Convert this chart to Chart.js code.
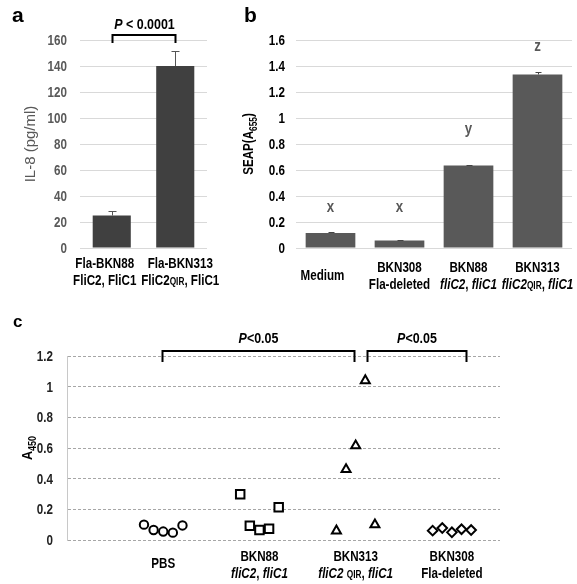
<!DOCTYPE html>
<html>
<head>
<meta charset="utf-8">
<script src="https://cdn.jsdelivr.net/npm/chart.js@4.4.0/dist/chart.umd.min.js"></script>
<style>
  html, body { margin: 0; padding: 0; background: #fff; }
  #wrap { position: relative; width: 577px; height: 584px; overflow: hidden; }
  canvas { position: absolute; }
  .tag { position: absolute; font-family: 'Liberation Sans', Arial, sans-serif; font-weight: bold; color: #000; line-height: 1; }
</style>
</head>
<body>
<div id="wrap">
  <canvas id="chartA" width="240" height="300" style="left:0;top:0"></canvas>
  <canvas id="chartB" width="337" height="300" style="left:240px;top:0"></canvas>
  <canvas id="chartC" width="577" height="284" style="left:0;top:300px"></canvas>
  <div class="tag" style="left:12px;top:4px;font-size:21px">a</div>
  <div class="tag" style="left:244px;top:4px;font-size:21px">b</div>
  <div class="tag" style="left:13px;top:313px;font-size:17px">c</div>
</div>
<script>
// panel a - IL-8
const aLabels = [['Fla-BKN88', 'FliC2, FliC1'], ['Fla-BKN313', 'FliC2~QIR~, FliC1']];
const aValues = [25, 140];
const aErrors = [3.8, 11.5];
const aTicks = {min: 0, max: 160, step: 20};
const aPValue = '*P* < 0.0001';

// panel b - SEAP
const bLabels = [['Medium'], ['BKN308', 'Fla-deleted'], ['BKN88', '*fliC2*, *fliC1*'], ['BKN313', '*fliC2*~QIR~, *fliC1*']];
const bValues = [0.115, 0.057, 0.635, 1.335];
const bErrors = [0.006, 0.003, 0.006, 0.022];
const bLetters = ['x', 'x', 'y', 'z'];
const bLetterAt = [0.31, 0.31, 0.91, 1.55];
const bTicks = {min: 0, max: 1.6, step: 0.2};

// panel c - A450 per mouse
const cLabels = [['PBS'], ['BKN88', '*fliC2*, *fliC1*'], ['BKN313', '*fliC2* ~QIR~, *fliC1*'], ['BKN308', 'Fla-deleted']];
const cJitter = [-0.2, -0.1, 0, 0.1, 0.2];
const cPBS = [0.10, 0.065, 0.055, 0.048, 0.095];
const cBKN88 = [0.298, 0.093, 0.065, 0.074, 0.213];
const cBKN313 = [0.06, 0.46, 0.615, 1.04, 0.10];
const cBKN308 = [0.061, 0.078, 0.050, 0.070, 0.065];
const cStyles = ['circle', 'rect', 'triangle', 'rectRot'];
const cBrackets = [[0.99, 2.98], [3.12, 4.15]];
const cTicks = {min: 0, max: 1.2, step: 0.2};

const FAMILY = "'Liberation Sans', Arial, sans-serif";
const NARROW = 0.83; // no narrow face installed, squeeze the regular one

function fontOf(size, bold, italic) {
  return (italic ? 'italic ' : '') + (bold ? 'bold ' : '') + size + 'px ' + FAMILY;
}

// *italic*  ~small caps~  _subscript_
function parseRuns(str) {
  const out = [];
  let italic = false, small = false, sub = false, buf = '';
  const push = () => { if (buf) out.push({text: buf, italic, small, sub}); buf = ''; };
  for (const ch of str) {
    if (ch === '*') { push(); italic = !italic; }
    else if (ch === '~') { push(); small = !small; }
    else if (ch === '_') { push(); sub = !sub; }
    else buf += ch;
  }
  push();
  return out;
}

function drawRich(ctx, str, x0, baseY, size, opt) {
  opt = opt || {};
  const bold = opt.bold !== false;
  const squeeze = opt.squeeze || NARROW;
  const parts = parseRuns(str).map(p => {
    const s = (p.small || p.sub) ? Math.round(size * 0.68) : size;
    const f = fontOf(s, bold, p.italic);
    ctx.font = f;
    return {text: p.text, f, w: ctx.measureText(p.text).width, dy: p.sub ? size * 0.25 : 0};
  });
  const total = parts.reduce((a, p) => a + p.w, 0);
  ctx.save();
  ctx.translate(x0, baseY);
  ctx.scale(squeeze, 1);
  let x = opt.align === 'right' ? -total : -total / 2;
  ctx.fillStyle = opt.color || '#000';
  ctx.textAlign = 'left';
  ctx.textBaseline = 'alphabetic';
  parts.forEach(p => { ctx.font = p.f; ctx.fillText(p.text, x, p.dy); x += p.w; });
  ctx.restore();
}

function drawRotated(ctx, str, cx, cy, size, opt) {
  ctx.save();
  ctx.translate(cx, cy);
  ctx.rotate(-Math.PI / 2);
  drawRich(ctx, str, 0, size * 0.36, size, opt);
  ctx.restore();
}

function drawTicks(ctx, scale, right, color) {
  scale.ticks.forEach(t => {
    const label = String(Math.round(t.value * 10) / 10);
    drawRich(ctx, label, right, scale.getPixelForValue(t.value) + 5, 14, {align: 'right', color});
  });
}

function bracket(ctx, x1, x2, yTop, yEnd) {
  ctx.save();
  ctx.strokeStyle = '#000';
  ctx.lineWidth = 2;
  ctx.beginPath();
  ctx.moveTo(x1, yEnd); ctx.lineTo(x1, yTop); ctx.lineTo(x2, yTop); ctx.lineTo(x2, yEnd);
  ctx.stroke();
  ctx.restore();
}

const errorBars = {
  id: 'errorBars',
  afterDatasetsDraw(chart, args, opts) {
    const {ctx} = chart;
    const y = chart.scales.y;
    ctx.save();
    ctx.strokeStyle = opts.color;
    ctx.lineWidth = 1;
    chart.getDatasetMeta(0).data.forEach((bar, i) => {
      const top = Math.round(y.getPixelForValue(opts.values[i] + opts.errors[i])) + 0.5;
      const x = Math.round(bar.x) + 0.5;
      ctx.beginPath();
      ctx.moveTo(x, bar.y); ctx.lineTo(x, top);
      ctx.moveTo(x - opts.cap, top); ctx.lineTo(x + opts.cap, top);
      ctx.stroke();
    });
    ctx.restore();
  }
};

function yAxis(t, width, grid, border) {
  return {
    min: t.min, max: t.max,
    afterFit: s => { s.width = width; },
    ticks: {stepSize: t.step, display: false},
    grid: Object.assign({drawTicks: false, color: '#d9d9d9'}, grid || {}),
    border: border || {display: false}
  };
}

const common = {
  responsive: false,
  animation: false,
  events: [],
  plugins: {legend: {display: false}, tooltip: {enabled: false}}
};

new Chart(document.getElementById('chartA'), {
  type: 'bar',
  data: {
    labels: aLabels.map(l => l[0]),
    datasets: [{data: aValues, backgroundColor: '#404040', barPercentage: 0.6, categoryPercentage: 1}]
  },
  options: Object.assign({}, common, {
    layout: {padding: {top: 40, right: 33, bottom: 52, left: 0}},
    scales: {x: {display: false}, y: yAxis(aTicks, 80)},
    plugins: Object.assign({}, common.plugins, {errorBars: {values: aValues, errors: aErrors, cap: 4, color: '#555'}})
  }),
  plugins: [errorBars, {
    id: 'decorA',
    afterDraw(chart) {
      const {ctx, chartArea} = chart;
      const bars = chart.getDatasetMeta(0).data;
      const shift = [-7, 5];
      drawTicks(ctx, chart.scales.y, 67, '#595959');
      bars.forEach((bar, i) => {
        aLabels[i].forEach((line, k) => drawRich(ctx, line, bar.x + shift[i], 268 + k * 17, 14));
      });
      bracket(ctx, Math.round(bars[0].x) + 0.5, Math.round(bars[1].x) + 0.5, chartArea.top - 5, chartArea.top + 3);
      drawRich(ctx, aPValue, (bars[0].x + bars[1].x) / 2 + 1, 29, 15);
      drawRotated(ctx, 'IL-8 (pg/ml)', 30, (chartArea.top + chartArea.bottom) / 2, 15, {bold: false, squeeze: 1, color: '#595959'});
    }
  }]
});

new Chart(document.getElementById('chartB'), {
  type: 'bar',
  data: {
    labels: bLabels.map(l => l[0]),
    datasets: [{data: bValues, backgroundColor: '#595959', barPercentage: 0.72, categoryPercentage: 1}]
  },
  options: Object.assign({}, common, {
    layout: {padding: {top: 40, right: 5, bottom: 52, left: 0}},
    scales: {x: {display: false}, y: yAxis(bTicks, 56)},
    plugins: Object.assign({}, common.plugins, {errorBars: {values: bValues, errors: bErrors, cap: 3, color: '#444'}})
  }),
  plugins: [errorBars, {
    id: 'decorB',
    afterDraw(chart) {
      const {ctx, chartArea} = chart;
      const y = chart.scales.y;
      drawTicks(ctx, y, 45, '#000');
      chart.getDatasetMeta(0).data.forEach((bar, i) => {
        const lines = bLabels[i];
        const x = bar.x + (lines.length === 1 ? -8 : 0);
        if (lines.length === 1) drawRich(ctx, lines[0], x, 280, 14);
        else lines.forEach((line, k) => drawRich(ctx, line, x, 272 + k * 17, 14));
        drawRich(ctx, bLetters[i], bar.x, y.getPixelForValue(bLetterAt[i]) + 4, 16, {color: '#595959'});
      });
      drawRotated(ctx, 'SEAP(A_655_)', 8, (chartArea.top + chartArea.bottom) / 2, 14);
    }
  }]
});

const cSeries = [cPBS, cBKN88, cBKN313, cBKN308];
new Chart(document.getElementById('chartC'), {
  type: 'scatter',
  data: {
    datasets: cSeries.map((vals, g) => ({
      data: vals.map((v, i) => ({x: g + 1 + cJitter[i], y: v})),
      pointStyle: cStyles[g],
      pointRadius: [4.2, 6, 5.2, 4.8][g],
      pointBorderWidth: 2,
      pointBorderColor: '#000',
      pointBackgroundColor: '#fff'
    }))
  },
  options: Object.assign({}, common, {
    layout: {padding: {top: 56, right: 77, bottom: 44, left: 0}},
    scales: {
      x: {type: 'linear', min: 0, max: 4.5, display: false},
      y: yAxis(cTicks, 67, {color: '#a6a6a6'}, {display: true, color: '#c8c8c8', dash: [3, 2]})
    }
  }),
  plugins: [{
    id: 'decorC',
    afterDraw(chart) {
      const {ctx, chartArea} = chart;
      const x = chart.scales.x;
      drawTicks(ctx, chart.scales.y, 53, '#222');
      cLabels.forEach((lines, g) => {
        const px = x.getPixelForValue(g + 1);
        if (lines.length === 1) drawRich(ctx, lines[0], px, 268, 14);
        else lines.forEach((line, k) => drawRich(ctx, line, px, 261 + k * 17, 14));
      });
      cBrackets.forEach(([a, b]) => {
        const x1 = Math.round(x.getPixelForValue(a)) + 0.5;
        const x2 = Math.round(x.getPixelForValue(b)) + 0.5;
        bracket(ctx, x1, x2, chartArea.top - 5, chartArea.top + 6);
        drawRich(ctx, '*P*<0.05', (x1 + x2) / 2, 43, 15);
      });
      drawRotated(ctx, 'A_450_', 27, (chartArea.top + chartArea.bottom) / 2, 14, {squeeze: 0.9});
    }
  }]
});
</script>
</body>
</html>
